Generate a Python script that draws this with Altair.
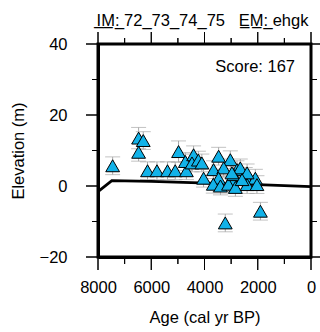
import altair as alt
import pandas as pd

# Dated sea-level indicators: age (cal yr BP), elevation (m), 1-sigma elevation error (m)
ages = [7450, 6475, 6300, 6475, 6140, 5785, 5390, 5100, 4680, 4975,
        4720, 4410, 4470, 4230, 4100, 4035, 3470, 3030, 3660, 3280,
        2780, 3470, 2970, 3670, 3400, 3100, 2840, 2470, 2090, 2400,
        1900, 3220, 2910, 2655, 2970, 2400, 2590, 2030]
elevs = [5.7, 13.5, 12.8, 9.5, 4.3, 4.3, 4.3, 4.3, 4.3, 9.7,
         6.9, 8.8, 6.5, 7.3, 6.5, 2.2, 8.4, 7.4, 4.6, 5.1,
         4.6, 2.2, 1.8, 0.5, 0.0, 0.5, -0.4, 2.7, 2.2, 0.4,
         -7.1, -10.4, 3.2, 5.1, 3.7, 3.7, 1.8, 0.4]
elev_err = [2.5, 3.0, 2.5, 2.5, 2.5, 2.5, 2.5, 2.5, 2.5, 3.0,
            2.5, 2.5, 2.5, 2.5, 2.5, 2.5, 2.5, 2.5, 2.5, 2.5,
            2.5, 2.5, 2.5, 2.5, 2.5, 2.5, 2.5, 2.5, 2.5, 2.5,
            2.5, 2.5, 2.5, 2.5, 2.5, 2.5, 2.5, 2.5]

# Predicted relative sea-level curve
model_age = [8000, 7480, 6000, 4800, 2000, 0]
model_elev = [-1.6, 1.5, 1.3, 1.0, 0.4, -0.2]

x_major = [8000, 6000, 4000, 2000, 0]
x_minor = [7000, 5000, 3000, 1000]
y_major = [40, 20, 0, -20]
y_minor = [30, 10, -10]

score_label = ["Score: 167"]
score_age = [600]
score_elev = [32.2]

title_text = ("I\u0332M\u0332:\u0332 72_73_74_75\u00a0\u00a0\u00a0"
              "E\u0332M\u0332:\u0332 ehgk")

pts = pd.DataFrame({
    "age": ages,
    "elev": elevs,
    "lo": [e - d for e, d in zip(elevs, elev_err)],
    "hi": [e + d for e, d in zip(elevs, elev_err)],
})
model = pd.DataFrame({"age": model_age, "elev": model_elev})
score = pd.DataFrame({"label": score_label, "age": score_age, "elev": score_elev})
head = pd.DataFrame({"label": [title_text]})
xmaj = pd.DataFrame({"age": x_major})
xmin = pd.DataFrame({"age": x_minor})
ymaj = pd.DataFrame({"elev": y_major})
ymin = pd.DataFrame({"elev": y_minor})

FONT = "Liberation Sans"
FS = 16.5
W = H = 213
xscale = alt.Scale(domain=[8000, 0], nice=False, zero=False)
yscale = alt.Scale(domain=[-20, 40], nice=False, zero=False)

bottom_axis = alt.Axis(orient="bottom", values=x_major, format="d",
                       labelPadding=22, title="Age (cal yr BP)", titlePadding=14)
left_axis = alt.Axis(orient="left", values=y_major, format="d",
                     labelPadding=31, title="Elevation (m)", titlePadding=13)

grey = "#a8a8a8"

err = alt.Chart(pts).mark_rule(color=grey, strokeWidth=1).encode(
    x=alt.X("age:Q", scale=xscale, axis=bottom_axis),
    y=alt.Y("lo:Q", scale=yscale, axis=left_axis),
    y2="hi:Q",
)
cap_hi = alt.Chart(pts).mark_tick(color=grey, orient="horizontal", size=15, thickness=1).encode(
    x=alt.X("age:Q", scale=xscale),
    y=alt.Y("hi:Q", scale=yscale),
)
cap_lo = alt.Chart(pts).mark_tick(color=grey, orient="horizontal", size=15, thickness=1).encode(
    x=alt.X("age:Q", scale=xscale),
    y=alt.Y("lo:Q", scale=yscale),
)
curve = alt.Chart(model).mark_line(color="black", strokeWidth=2.8).encode(
    x=alt.X("age:Q", scale=xscale),
    y=alt.Y("elev:Q", scale=yscale),
)
tri = alt.Chart(pts).mark_point(shape="triangle-up", size=190, filled=True,
                                fill="#12b2e8", stroke="black", strokeWidth=1,
                                opacity=1).encode(
    x=alt.X("age:Q", scale=xscale),
    y=alt.Y("elev:Q", scale=yscale),
)
txt = alt.Chart(score).mark_text(align="right", baseline="alphabetic",
                                 font=FONT, fontSize=FS, color="black").encode(
    x=alt.X("age:Q", scale=xscale),
    y=alt.Y("elev:Q", scale=yscale),
    text="label:N",
)
# Run identifiers above the frame
header = alt.Chart(head).mark_text(align="center", baseline="alphabetic",
                                   font=FONT, fontSize=FS, color="black").encode(
    x=alt.value(W / 2 - 2), y=alt.value(-18), text="label:N",
)


# Tick marks on all four sides of the frame (major and minor),
# drawn both as rules and as thin tick rects at the same spots
def xticks(df, y0, y1):
    rule = alt.Chart(df).mark_rule(color="black", strokeWidth=1).encode(
        x=alt.X("age:Q", scale=xscale),
        y=alt.value(y0), y2=alt.value(y1))
    bar = alt.Chart(df).mark_tick(color="black", orient="vertical",
                                  size=abs(y1 - y0), thickness=1, opacity=1).encode(
        x=alt.X("age:Q", scale=xscale),
        y=alt.value((y0 + y1) / 2))
    return [rule, bar]


def yticks(df, x0, x1):
    rule = alt.Chart(df).mark_rule(color="black", strokeWidth=1).encode(
        y=alt.Y("elev:Q", scale=yscale),
        x=alt.value(x0), x2=alt.value(x1))
    bar = alt.Chart(df).mark_tick(color="black", orient="horizontal",
                                  size=abs(x1 - x0), thickness=1, opacity=1).encode(
        y=alt.Y("elev:Q", scale=yscale),
        x=alt.value((x0 + x1) / 2))
    return [rule, bar]


frame_ticks = (
    xticks(xmaj, H, H + 13) + xticks(xmin, H, H + 7)
    + xticks(xmaj, 0, -12) + xticks(xmin, 0, -6)
    + yticks(ymaj, 0, -12) + yticks(ymin, 0, -6)
    + yticks(ymaj, W, W + 9) + yticks(ymin, W, W + 6)
)

chart = (
    alt.layer(err, cap_hi, cap_lo, curve, tri, txt, header, *frame_ticks)
    .properties(width=W, height=H,
                autosize=alt.AutoSizeParams(type="none"),
                padding={"left": 98, "top": 44, "right": 9, "bottom": 75},
                background="white")
    .configure_axis(domain=True, domainColor="black", domainWidth=3,
                    grid=True, gridOpacity=0, ticks=False,
                    labelFont=FONT, labelFontSize=FS, labelColor="black",
                    titleFont=FONT, titleFontSize=FS, titleColor="black",
                    titleFontWeight="normal", labelOverlap=False, labelFlush=False)
    .configure_view(stroke="black", strokeWidth=3)
)

chart.save("out.html", embed_options={"renderer": "svg", "actions": False})
